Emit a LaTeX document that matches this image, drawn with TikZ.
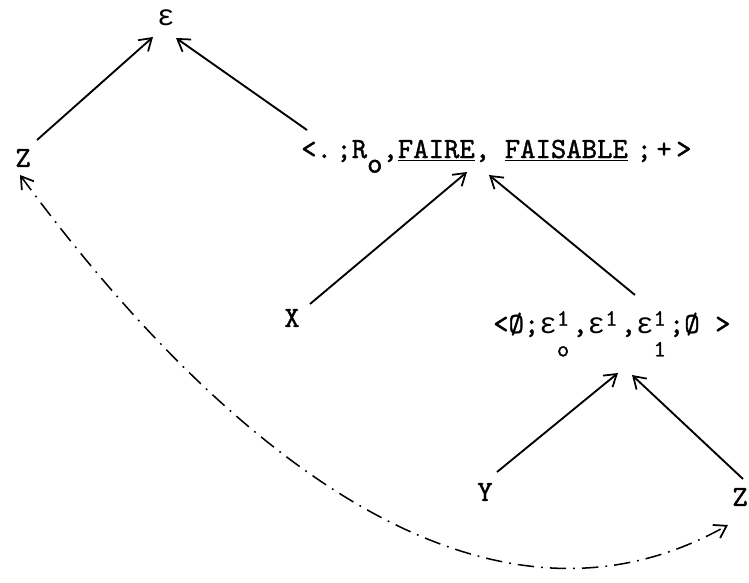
\documentclass[tikz,border=0pt]{standalone}
\usepackage{fontspec}
\newfontfamily\tw{lmmono10-regular.otf}[FakeBold=1.2]
\newfontfamily\grk{Liberation Mono}
\usetikzlibrary{arrows.meta}

\newcommand{\lowr}[1]{\raisebox{-0.5em}{#1}}
\newcommand{\hilo}[2]{\makebox[0.525em][l]{\rlap{\raisebox{0.25em}{\fontsize{20}{22}\selectfont #1}}\raisebox{-0.8em}{\fontsize{20}{22}\selectfont #2}}}
\newcommand{\eps}{{\grk ε}}
\newcommand{\gap}[1][0.15em]{\hspace{#1}}

\begin{document}
\begin{tikzpicture}
  [
  x=0.03cm, y=-0.03cm,
  lbl/.style={inner sep=0pt, font=\tw\fontsize{25}{28}\selectfont},
  link/.style={draw, -{Straight Barb[length=3.5mm, width=4.5mm, line width=1.5pt]}, line width=1.6pt},
  backlink/.style={draw, line width=1.3pt,
    {Straight Barb[length=3.5mm, width=4.5mm, line width=1.5pt]}-{Straight Barb[length=3.5mm, width=4.5mm, line width=1.5pt]},
    dash pattern=on 14pt off 6pt on 1.5pt off 6pt}
  ]
  \useasboundingbox (0,0) rectangle (749,582);

  \node[lbl] (eps) at (166,18) {\eps};
  \node[lbl] (Zl) at (23,158) {Z};
  \node[lbl, anchor=base west] (top) at (301,158)
    {<.\gap;R\lowr{o},\underline{FAIRE},\gap[0.5em]\underline{FAISABLE}\gap[0.3em];\gap+\gap>};
  \node[lbl] (X) at (292,318) {X};
  \node[lbl, anchor=base west] (low) at (493,333)
    {<Ø;\eps\hilo{1}{o},\eps\hilo{1}{},\eps\hilo{1}{1};Ø >};
  \node[lbl] (Y) at (485,492) {Y};
  \node[lbl] (Zr) at (740,497) {Z};

  \draw[link] ([shift={(14,-18)}]Zl.center) -- ([shift={(-13,19)}]eps.center);
  \draw[link] ([shift={(6,-28)}]top.base west) -- ([shift={(10,20)}]eps.center);
  \draw[link] ([shift={(18,-14)}]X.center) -- ([shift={(166,14)}]top.base west);
  \draw[link] ([shift={(142,-38)}]low.base west) -- ([shift={(188,17)}]top.base west);
  \draw[link] ([shift={(12,-20)}]Y.center) -- ([shift={(125,40)}]low.base west);
  \draw[link] ([shift={(3,-18)}]Zr.center) -- ([shift={(139,42)}]low.base west);
  \draw[backlink] ([shift={(-3,17)}]Zl.center) .. controls (200,420) and (470,670) .. ([shift={(-12,28)}]Zr.center);
\end{tikzpicture}
\end{document}
